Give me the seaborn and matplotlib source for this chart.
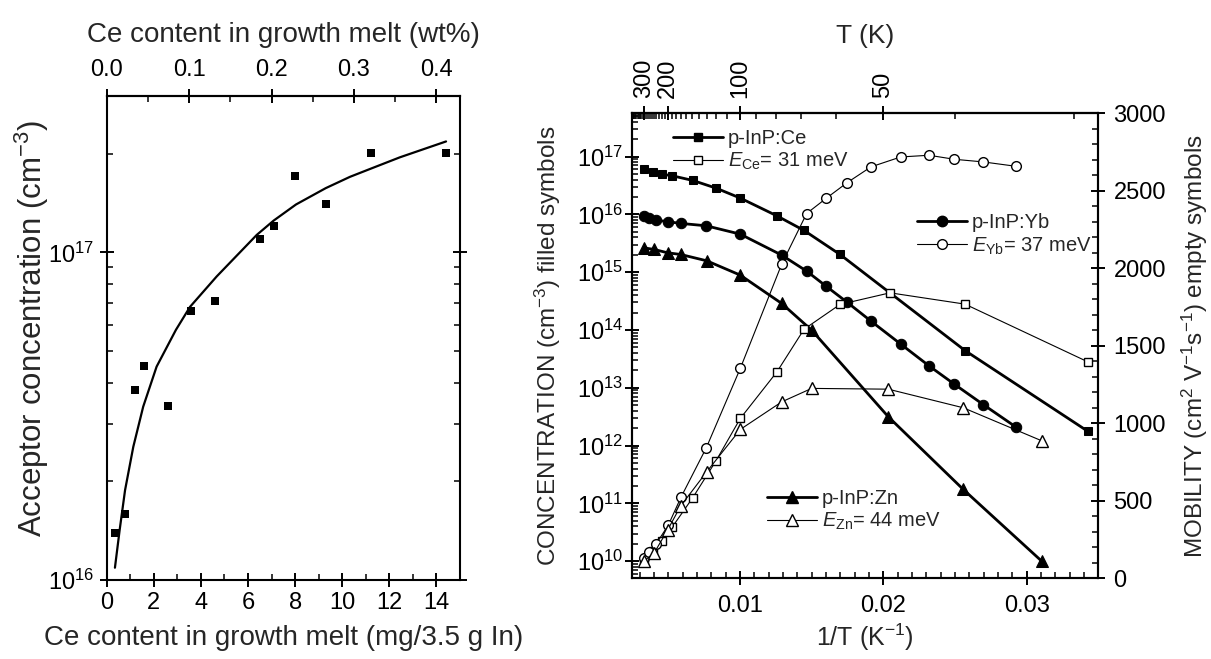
import matplotlib
matplotlib.use('Agg')
import matplotlib.pyplot as plt
from matplotlib.lines import Line2D
from matplotlib.ticker import MultipleLocator, FixedLocator, FormatStrFormatter, NullFormatter, LogLocator
import numpy as np
import seaborn as sns

# left panel: acceptor concentration vs Ce in the melt
melt_mg = [0.34, 0.78, 1.19, 1.60, 2.59, 3.58, 4.59, 6.50, 7.09, 8.01, 9.30, 11.21, 14.41]
acceptor = [1.39e16, 1.59e16, 3.79e16, 4.50e16, 3.40e16, 6.62e16, 7.10e16, 1.10e17, 1.20e17,
            1.71e17, 1.40e17, 2.01e17, 2.01e17]
fit_mg = [0.35, 0.55, 0.78, 1.13, 1.55, 2.12, 2.94, 3.54, 4.67, 6.37, 7.09, 8.04, 9.30, 10.33, 11.21, 12.45, 14.41]
fit_acc = [1.09e16, 1.42e16, 1.88e16, 2.55e16, 3.38e16, 4.48e16, 5.80e16, 6.82e16, 8.44e16,
           1.13e17, 1.25e17, 1.40e17, 1.57e17, 1.70e17, 1.80e17, 1.95e17, 2.18e17]

# right panel: concentration (filled) and mobility (empty) vs 1/T
x_ce = [0.00330, 0.00395, 0.00454, 0.00528, 0.00670, 0.00833, 0.01002, 0.01258, 0.01447, 0.01698, 0.0257, 0.03426]
conc_ce = [6.05e16, 5.43e16, 4.96e16, 4.64e16, 3.86e16, 2.84e16, 1.91e16, 9.4e15, 5.26e15, 2.02e15, 4.4e13, 1.77e12]
x_ce_mob = [0.00330, 0.00395, 0.00454, 0.00528, 0.00670, 0.00833, 0.01002, 0.01258, 0.01447, 0.01698,
            0.02047, 0.0257, 0.03426]
mob_ce = [105, 175, 240, 330, 518, 757, 1030, 1331, 1606, 1766, 1841, 1768, 1396]

x_yb = [0.00330, 0.00365, 0.00414, 0.00500, 0.00588, 0.00765, 0.01002, 0.01291, 0.01465, 0.01600,
        0.01749, 0.01914, 0.02121, 0.02319, 0.02496, 0.02698, 0.02924]
conc_yb = [9.3e15, 8.5e15, 7.95e15, 7.43e15, 6.96e15, 6.33e15, 4.54e15, 1.97e15, 1.04e15, 5.73e14,
           2.99e14, 1.42e14, 5.7e13, 2.39e13, 1.15e13, 5.1e12, 2.1e12]
mob_yb = [127, 166, 219, 342, 521, 841, 1353, 2026, 2353, 2450, 2553, 2654, 2718, 2729, 2703, 2686, 2658]

x_zn = [0.00330, 0.00400, 0.00495, 0.00586, 0.00768, 0.01002, 0.01291, 0.01500, 0.02035, 0.02558, 0.03105]
conc_zn = [2.63e15, 2.47e15, 2.16e15, 2.02e15, 1.57e15, 8.87e14, 2.87e14, 9.9e13, 3.14e12, 1.74e11, 1.0e10]
mob_zn = [110, 160, 310, 465, 686, 959, 1137, 1224, 1219, 1099, 886]

T_major = [300, 200, 100, 50]
T_minor = [t for t in range(30, 420, 10) if t not in T_major]

FONT = 'Liberation Sans'
sns.set_theme(style='ticks')
plt.rcParams['font.family'] = [FONT, 'DejaVu Sans']
plt.rcParams['mathtext.fontset'] = 'custom'
plt.rcParams['mathtext.rm'] = FONT
plt.rcParams['mathtext.it'] = FONT + ':italic'
plt.rcParams['axes.linewidth'] = 1.5
plt.rcParams['axes.edgecolor'] = 'black'

TICK = 17

fig = plt.figure(figsize=(12.11, 6.59), dpi=100)
ax1 = fig.add_axes([0.0881, 0.1199, 0.2917, 0.7344])
ax = fig.add_axes([0.5216, 0.1229, 0.3853, 0.7052])


def style_ticks(a, pad=4, **kw):
    a.tick_params(which='major', direction='inout', length=10, width=1.4, labelsize=TICK,
                  colors='black', pad=pad, **kw)
    a.tick_params(which='minor', direction='in', length=4, width=1.1, colors='black', **kw)


# ---- left panel
sns.lineplot(x=fit_mg, y=fit_acc, ax=ax1, color='black', lw=1.6, estimator=None, sort=False)
sns.scatterplot(x=melt_mg, y=acceptor, ax=ax1, marker='s', s=26, color='black', edgecolor='black',
                linewidth=0, zorder=3)
ax1.set_yscale('log')
ax1.set_xlim(0, 15)
ax1.set_ylim(1e16, 3e17)
ax1.set_xticks(range(0, 15, 2))
ax1.xaxis.set_minor_locator(MultipleLocator(1))
ax1.yaxis.set_minor_locator(LogLocator(subs=np.arange(2, 10)))
ax1.yaxis.set_minor_formatter(NullFormatter())
style_ticks(ax1, right=True)
ax1.set_xlabel('Ce content in growth melt (mg/3.5 g In)', fontsize=20)
ax1.xaxis.set_label_coords(0.5, -0.094)
ax1.set_ylabel('Acceptor concentration (cm$^{-3}$)', fontsize=22.5)
ax1.yaxis.set_label_coords(-0.158, 0.52)

top1 = ax1.secondary_xaxis('top', functions=(lambda v: v / 35.0, lambda v: v * 35.0))
top1.set_xticks([0.0, 0.1, 0.2, 0.3, 0.4])
top1.xaxis.set_minor_locator(MultipleLocator(0.05))
top1.xaxis.set_major_formatter(FormatStrFormatter('%.1f'))
style_ticks(top1, pad=6)
top1.set_xlabel('Ce content in growth melt (wt%)', fontsize=20, labelpad=12)

# ---- right panel
ax2 = ax.twinx()
filled = dict(color='black', lw=2.0, estimator=None, sort=False, markeredgecolor='black')
empty = dict(color='black', lw=0.8, estimator=None, sort=False, markerfacecolor='white',
             markeredgecolor='black', markeredgewidth=1.0)

sns.lineplot(x=x_ce, y=conc_ce, ax=ax, marker='s', markersize=6, markerfacecolor='black', **filled)
sns.lineplot(x=x_yb, y=conc_yb, ax=ax, marker='o', markersize=7.5, markerfacecolor='black', **filled)
sns.lineplot(x=x_zn, y=conc_zn, ax=ax, marker='^', markersize=8, markerfacecolor='black', **filled)

sns.lineplot(x=x_ce_mob, y=mob_ce, ax=ax2, marker='s', markersize=6, **empty)
sns.lineplot(x=x_yb, y=mob_yb, ax=ax2, marker='o', markersize=7, **empty)
sns.lineplot(x=x_zn, y=mob_zn, ax=ax2, marker='^', markersize=8, **empty)

ax.set_yscale('log')
ax.set_xlim(0.00244, 0.0350)
ax.set_ylim(5.1e9, 5.6e17)
ax.set_xticks([0.01, 0.02, 0.03])
ax.xaxis.set_major_formatter(FormatStrFormatter('%g'))
ax.xaxis.set_minor_locator(MultipleLocator(0.001))
ax.yaxis.set_major_locator(LogLocator(numticks=20))
ax.yaxis.set_minor_locator(LogLocator(subs=np.arange(2, 10), numticks=100))
ax.yaxis.set_minor_formatter(NullFormatter())
style_ticks(ax)
ax.tick_params(axis='x', which='major', pad=7)
ax.tick_params(axis='y', which='major', pad=1)
ax.set_xlabel('1/T (K$^{-1}$)', fontsize=18)
ax.xaxis.set_label_coords(0.5, -0.093)
ax.set_ylabel('CONCENTRATION (cm$^{-3}$) filled symbols', fontsize=17.5)
ax.yaxis.set_label_coords(-0.148, 0.5)

ax2.set_ylim(0, 3000)
ax2.yaxis.set_major_locator(MultipleLocator(500))
ax2.yaxis.set_minor_locator(MultipleLocator(100))
style_ticks(ax2, pad=6)
ax2.set_xlabel('')
ax2.set_ylabel('MOBILITY (cm$^2$ V$^{-1}$s$^{-1}$) empty symbols', fontsize=17.5)
ax2.yaxis.set_label_coords(1.175, 0.5)


def inv(v):
    v = np.array(v, dtype=float)
    with np.errstate(divide='ignore'):
        return 1.0 / v


topT = ax.secondary_xaxis('top', functions=(inv, inv))
topT.set_xticks(T_major)
topT.xaxis.set_minor_locator(FixedLocator(T_minor))
topT.xaxis.set_major_formatter(FormatStrFormatter('%d'))
style_ticks(topT, pad=6)
topT.tick_params(which='major', labelrotation=90)
topT.set_xlabel('T (K)', fontsize=19, labelpad=11)

# legends, one per dopant
def pair(mk, ms_f, ms_e):
    h1 = Line2D([], [], color='black', lw=2.0, marker=mk, markersize=ms_f, markerfacecolor='black',
                markeredgecolor='black')
    h2 = Line2D([], [], color='black', lw=0.8, marker=mk, markersize=ms_e, markerfacecolor='white',
                markeredgecolor='black')
    return [h1, h2]


leg_kw = dict(frameon=False, fontsize=14.5, handlelength=2.5, handletextpad=0.25, borderpad=0,
              borderaxespad=0, labelspacing=0.15, loc='center left')
l1 = ax2.legend(pair('s', 6, 6), ['p-InP:Ce', r'$E_{\rm Ce}$= 31 meV'], bbox_to_anchor=(0.088, 0.920), **leg_kw)
ax2.add_artist(l1)
l2 = ax2.legend(pair('o', 7.5, 7), ['p-InP:Yb', r'$E_{\rm Yb}$= 37 meV'], bbox_to_anchor=(0.611, 0.738), **leg_kw)
ax2.add_artist(l2)
ax2.legend(pair('^', 8, 8), ['p-InP:Zn', r'$E_{\rm Zn}$= 44 meV'], bbox_to_anchor=(0.289, 0.145), **leg_kw)

plt.savefig('out.png', dpi=100)
